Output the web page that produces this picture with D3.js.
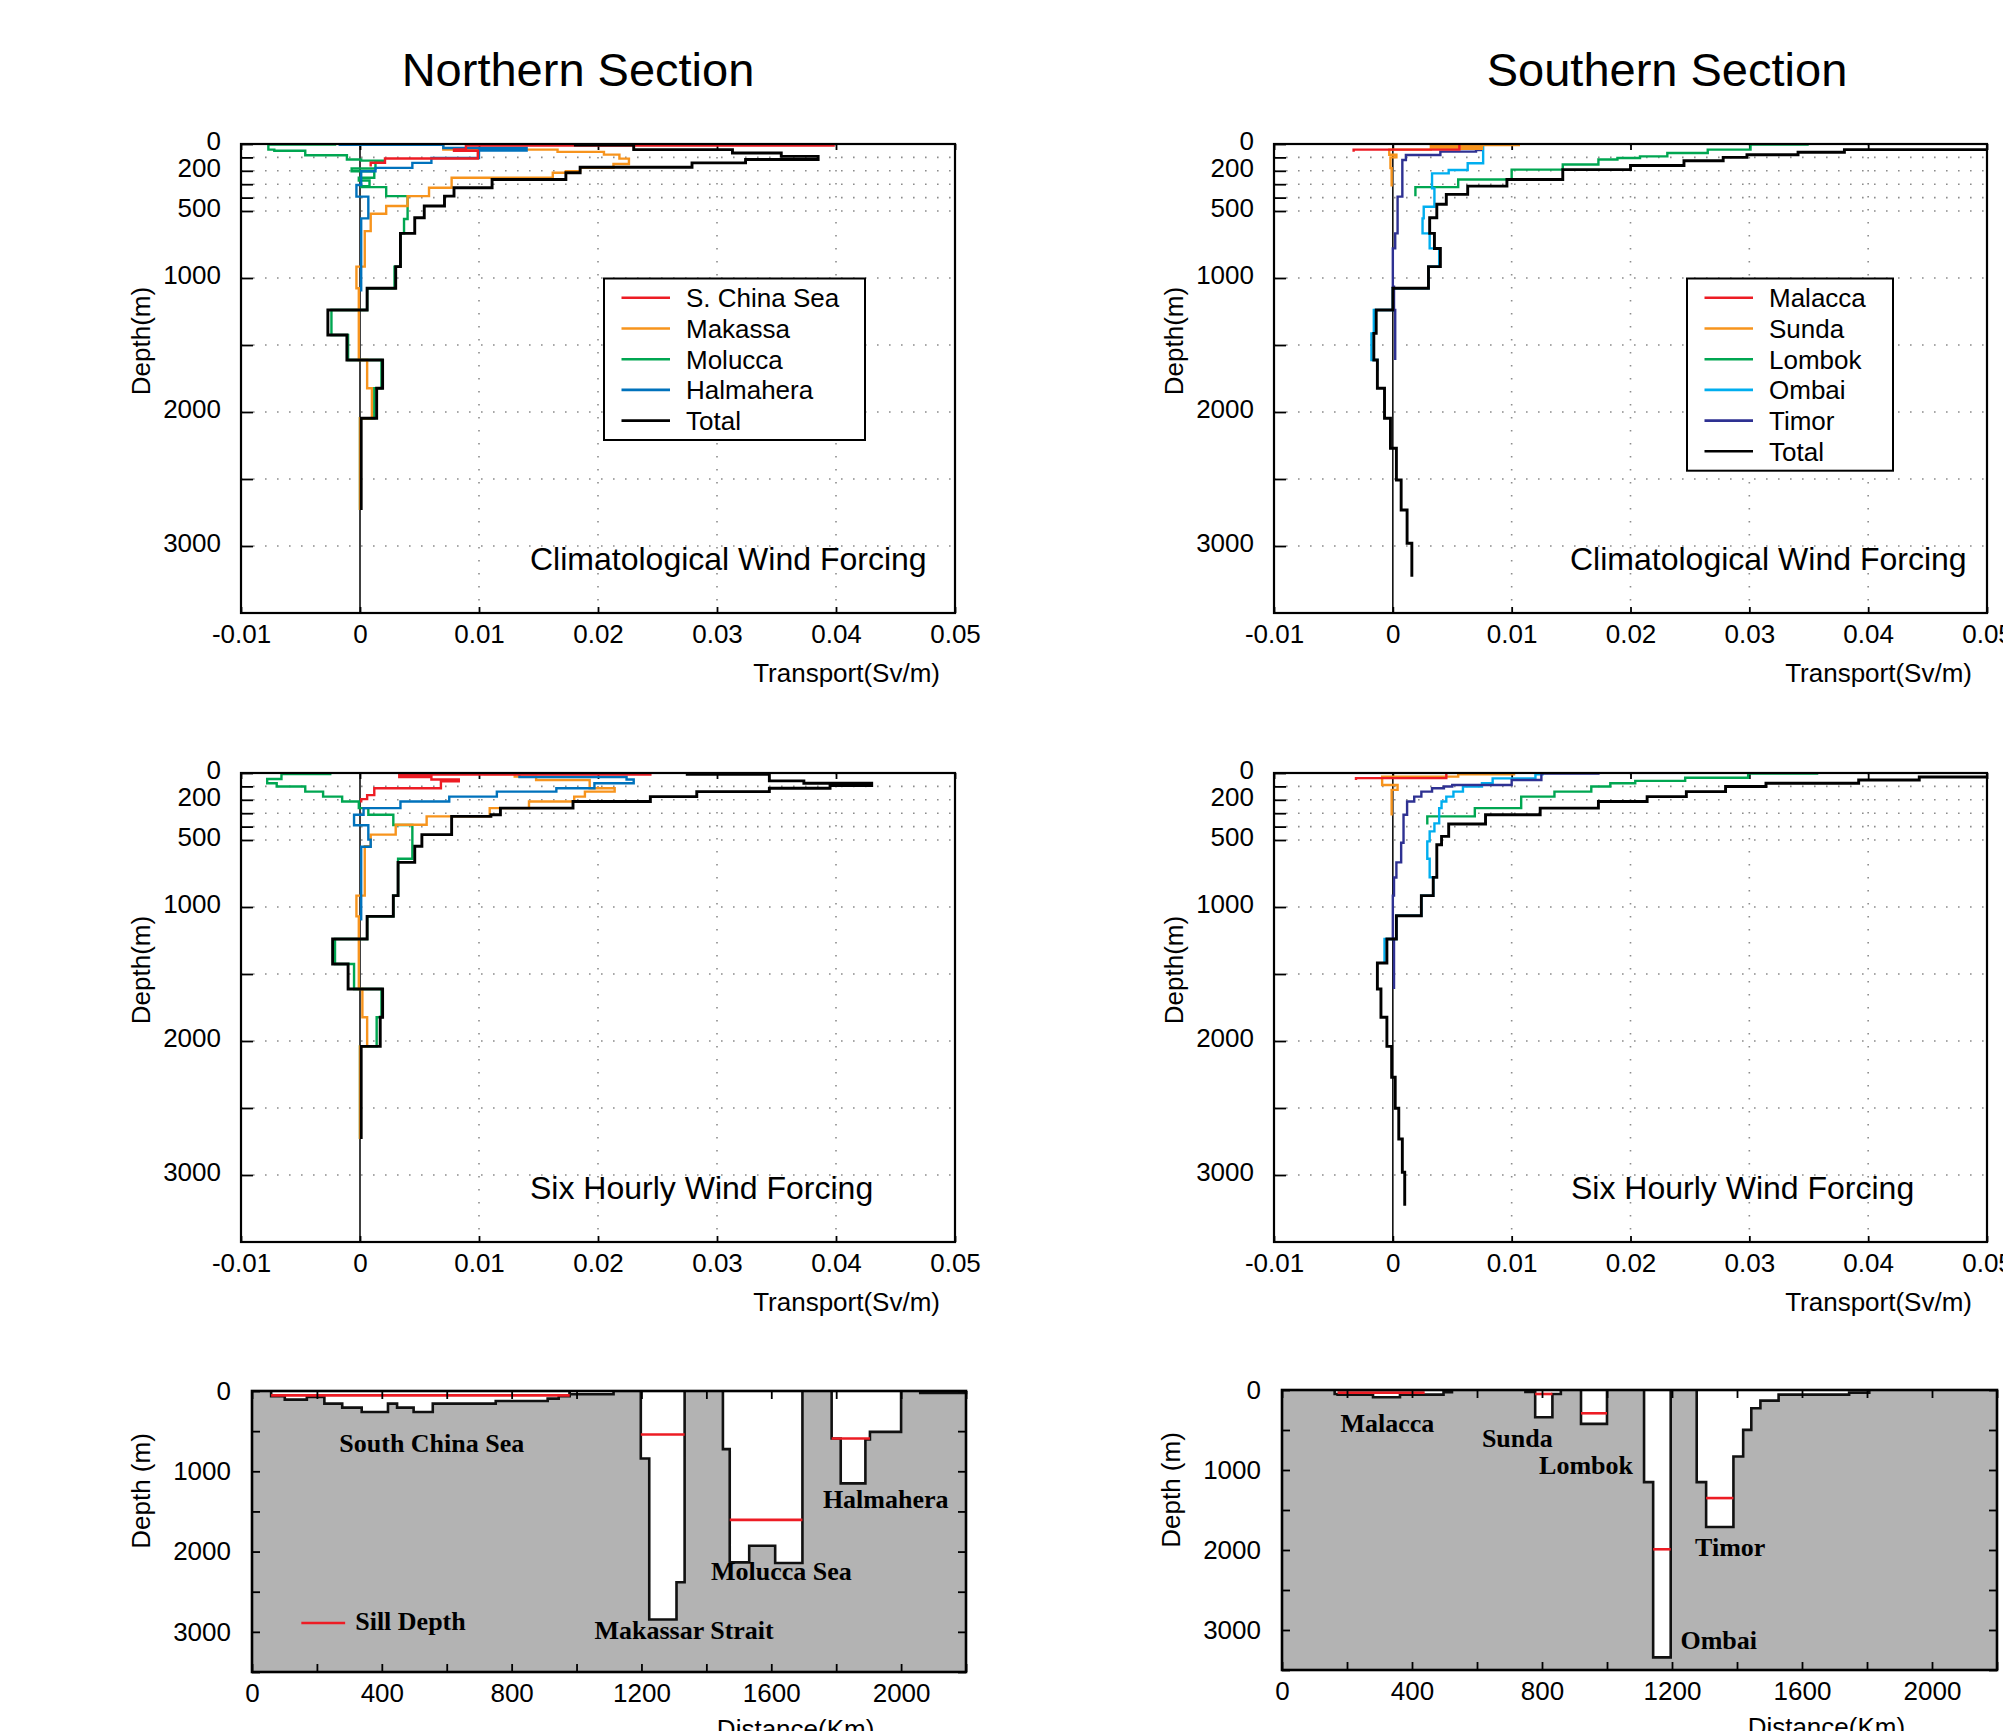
<!DOCTYPE html>
<html>
<head>
<meta charset="utf-8">
<script src="https://cdn.jsdelivr.net/npm/d3@7"></script>
<style>
body { margin: 0; background: #fff; }
</style>
</head>
<body>
<script>
var SANS = "'Liberation Sans', Arial, Helvetica, sans-serif";
var SERIF = "'Liberation Serif', 'Times New Roman', Times, serif";

// ---- axis ticks ----
var transportTicks = [-0.01, 0, 0.01, 0.02, 0.03, 0.04, 0.05];
var depthTicks = [0, 100, 200, 300, 400, 500, 1000, 1500, 2000, 2500, 3000];
var depthLabels = [0, 200, 500, 1000, 2000, 3000];
var distTicks = [0, 200, 400, 600, 800, 1000, 1200, 1400, 1600, 1800, 2000, 2200];
var distLabels = [0, 400, 800, 1200, 1600, 2000];
var sectionDepthTicks = [0, 500, 1000, 1500, 2000, 2500, 3000, 3500];
var sectionDepthLabels = [0, 1000, 2000, 3000];

// ---- legend ----
var northNames = ["S. China Sea", "Makassa", "Molucca", "Halmahera", "Total"];
var northColors = ["#ed1c24", "#f7941d", "#00a651", "#0072bc", "#000000"];
var southNames = ["Malacca", "Sunda", "Lombok", "Ombai", "Timor", "Total"];
var southColors = ["#ed1c24", "#f7941d", "#00a651", "#00aeef", "#2e3192", "#000000"];

// ---- transport profiles: [layer top depth (m), transport (Sv/m)], last row = bottom ----
// northern section, climatological wind
var climScs = [[0,0.0398],[12,0.0089],[40,0.0079],[50,0.0099],[108,0.0021],[140,0.0009],[168,0.0009]];
var climMak = [[0,0.0042],[6,0.0070],[42,0.0166],[59,0.0205],[79,0.0218],[109,0.0226],[149,0.0213],[178,0.0185],[203,0.0173],[215,0.0162],[252,0.0077],[327,0.0058],[389,0.0040],[463,0.0022],[520,0.0009],[650,0.0004],[915,-0.0003],[1077,-0.0001],[1612,0.0006],[1823,0.0010],[2047,0.0000],[2731,0]];
var climMol = [[0,-0.0021],[5,-0.0077],[42,-0.0072],[50,-0.0046],[84,-0.0011],[116,0.0001],[124,0.0020],[141,0.0013],[183,-0.0007],[203,0.0012],[252,-0.0001],[272,0.0008],[314,0.0001],[322,0.0022],[389,0.0040],[560,0.0037],[667,0.0034],[915,0.0029],[1077,0.0006],[1239,-0.0024],[1425,-0.0010],[1612,0.0018],[1823,0.0012],[2047,0.0000],[2731,0]];
var climHal = [[0,-0.0017],[6,0.0070],[30,0.0140],[48,0.0100],[105,0.0060],[141,0.0044],[178,0.0013],[203,0.0001],[306,-0.0003],[393,0.0007],[555,0.0001],[1100,0.0001]];
var climTotN = [[0,0.0181],[8,0.0230],[42,0.0313],[67,0.0354],[92,0.0385],[116,0.0324],[141,0.0279],[173,0.0185],[215,0.0173],[265,0.0111],[327,0.0079],[389,0.0071],[463,0.0054],[550,0.0046],[667,0.0034],[915,0.0030],[1077,0.0006],[1239,-0.0027],[1425,-0.0011],[1612,0.0019],[1823,0.0014],[2047,0.0001],[2731,0.0001]];

// northern section, six hourly wind
var sixScs = [[0,0.0244],[12,0.0033],[30,0.0060],[48,0.0083],[62,0.0068],[114,0.0012],[165,0.0006],[195,0.0001],[220,0.0001]];
var sixMak = [[0,0.0105],[8,0.0130],[27,0.0148],[52,0.0193],[114,0.0214],[139,0.0189],[176,0.0180],[213,0.0142],[262,0.0109],[324,0.0056],[386,0.0030],[460,0.0009],[547,0.0004],[915,-0.0003],[1070,-0.0001],[1612,0.0002],[1823,0.0006],[2040,0.0000],[2731,0]];
var sixMol = [[0,-0.0025],[8,-0.0066],[45,-0.0078],[77,-0.0070],[101,-0.0046],[139,-0.0031],[176,-0.0015],[213,-0.0001],[262,0.0007],[312,0.0028],[388,0.0044],[640,0.0032],[915,0.0028],[1070,0.0006],[1239,-0.0021],[1425,-0.0005],[1612,0.0018],[1823,0.0014],[2040,0.0000],[2731,0]];
var sixHal = [[0,0.0060],[5,0.0134],[30,0.0224],[48,0.0230],[77,0.0197],[114,0.0165],[139,0.0115],[176,0.0075],[213,0.0034],[262,0.0003],[312,-0.0005],[390,0.0007],[497,0.0009],[550,0.0001],[1100,0.0001]];
var sixTotN = [[0,0.0275],[10,0.0344],[59,0.0373],[77,0.0430],[94,0.0395],[114,0.0344],[139,0.0283],[176,0.0244],[213,0.0179],[262,0.0118],[312,0.0110],[324,0.0077],[460,0.0052],[547,0.0046],[667,0.0032],[915,0.0028],[1070,0.0006],[1239,-0.0023],[1425,-0.0010],[1612,0.0019],[1823,0.0017],[2040,0.0001],[2731,0.0001]];

// southern section, climatological wind
var climMal = [[0,0.0056],[42,-0.0033],[58,-0.0033]];
var climSun = [[0,0.0106],[8,0.0032],[20,0.0075],[35,0.0032],[42,-0.0003],[80,0.0003],[100,-0.0002],[180,-0.0001],[318,-0.0001]];
var climLom = [[0,0.0349],[5,0.0301],[42,0.0265],[67,0.0231],[92,0.0208],[104,0.0189],[116,0.0173],[153,0.0143],[191,0.0100],[265,0.0055],[322,0.0019],[390,0.0019]];
var climOmb = [[0,0.0076],[144,0.0063],[194,0.0047],[219,0.0033],[331,0.0035],[468,0.0026],[555,0.0025],[667,0.0031],[779,0.0039],[915,0.0030],[1077,0.0000],[1239,-0.0016],[1413,-0.0018],[1612,-0.0013],[1690,-0.0013]];
var climTim = [[0,0.0074],[45,0.0070],[57,0.0040],[82,0.0011],[119,0.0008],[393,0.0004],[667,0.0002],[779,0.0000],[1065,0.0001],[1239,0.0002],[1612,0.0002]];
var climTotS = [[0,0.0530],[42,0.0380],[62,0.0341],[80,0.0298],[100,0.0278],[125,0.0245],[160,0.0200],[191,0.0143],[265,0.0096],[314,0.0063],[376,0.0045],[450,0.0037],[550,0.0031],[667,0.0035],[780,0.0040],[915,0.0030],[1077,0.0000],[1239,-0.0014],[1413,-0.0016],[1612,-0.0013],[1823,-0.0007],[2047,-0.0002],[2271,0.0003],[2507,0.0007],[2731,0.0012],[2980,0.0016],[3229,0.0016]];

// southern section, six hourly wind
var sixMal = [[0,0.0045],[38,-0.0031],[52,-0.0031]];
var sixSun = [[0,0.0102],[10,0.0055],[27,-0.0009],[89,0.0004],[126,-0.0001],[318,-0.0001]];
var sixLom = [[0,0.0357],[5,0.0299],[35,0.0246],[59,0.0204],[77,0.0183],[101,0.0167],[139,0.0136],[176,0.0108],[262,0.0069],[324,0.0029],[385,0.0029]];
var sixOmb = [[0,0.0126],[10,0.0120],[40,0.0084],[77,0.0075],[101,0.0059],[139,0.0051],[176,0.0045],[213,0.0041],[262,0.0039],[376,0.0035],[436,0.0031],[510,0.0029],[640,0.0031],[779,0.0034],[915,0.0024],[1065,0.0003],[1239,-0.0007],[1418,-0.0007]];
var sixTim = [[0,0.0173],[5,0.0125],[52,0.0100],[89,0.0050],[101,0.0043],[114,0.0033],[139,0.0024],[176,0.0018],[213,0.0012],[312,0.0009],[520,0.0007],[667,0.0003],[780,0.0001],[915,0.0000],[1239,0.0001],[1612,0.0001]];
var sixTotS = [[0,0.0530],[30,0.0443],[52,0.0392],[77,0.0314],[101,0.0280],[139,0.0247],[176,0.0214],[213,0.0173],[262,0.0124],[312,0.0078],[381,0.0047],[473,0.0041],[535,0.0037],[779,0.0034],[915,0.0024],[1065,0.0003],[1239,-0.0005],[1418,-0.0013],[1612,-0.0010],[1823,-0.0005],[2040,-0.0001],[2271,0.0002],[2502,0.0005],[2731,0.0008],[2980,0.0010],[3229,0.0010]];

// ---- passage bottoms: [distance (km), depth (m)] steps, last row = end of passage ----
var scsFloor = [[59,66],[101,107],[169,74],[223,157],[278,207],[338,261],[419,157],[447,207],[498,261],[557,157],[751,124],[911,95],[945,66],[979,0]];
var shelfFloorN = [[979,40],[1114,0]];
var makassarFloor = [[1198,840],[1224,2846],[1308,2383],[1333,0]];
var moluccaFloor = [[1451,724],[1472,2135],[1532,1928],[1612,2143],[1696,0]];
var halmaheraFloor = [[1786,591],[1814,1150],[1890,604],[1904,509],[2000,0]];
var eastShelfFloor = [[2059,25],[2200,0]];
var malaccaFloor = [[162,50],[171,58],[280,91],[363,58],[497,29],[523,0]];
var sundaFloor = [[749,25],[779,341],[832,50],[858,0]];
var lombokFloor = [[920,424],[1000,0]];
var ombaiFloor = [[1114,1151],[1142,3342],[1196,0]];
var timorFloor = [[1276,1151],[1305,1712],[1389,831],[1419,499],[1444,229],[1472,133],[1528,58],[1745,33],[1807,0]];

// sill depths: [from km, to km, depth m]
var northSills = [[59,979,54],[1198,1333,542],[1472,1696,1605],[1786,1904,592]];
var southSills = [[171,439,33],[779,832,50],[920,1000,291],[1142,1196,1991],[1305,1389,1351]];

// passage names: [text, km, depth]
var northPlaces = [["South China Sea",269,760],["Makassar Strait",1055,3089],["Molucca Sea",1414,2354],["Halmahera",1759,1457]];
var southPlaces = [["Malacca",180,527],["Sunda",615,718],["Lombok",791,1055],["Timor",1271,2079],["Ombai",1226,3240]];

var svg = d3.select("body").append("svg").attr("width", 2003).attr("height", 1731);

function fmtTransport(d) { return d === 0 ? "0" : String(+d.toFixed(2)); }

function stepPoints(prof) {
  var pts = [];
  for (var i = 0; i < prof.length - 1; i++) {
    pts.push([prof[i][1], prof[i][0]], [prof[i][1], prof[i + 1][0]]);
  }
  return pts;
}

function profilePanel(p) {
  var x = d3.scaleLinear().domain([-0.01, 0.05]).range([p.left, p.right]);
  var y = d3.scaleLinear().domain([0, 3500]).range([p.top, p.bottom]);
  var g = svg.append("g");

  svg.append("clipPath").attr("id", p.id).append("rect")
    .attr("x", p.left).attr("y", p.top)
    .attr("width", p.right - p.left).attr("height", p.bottom - p.top);

  // dotted grid
  g.append("g").selectAll("line").data(depthTicks.slice(1)).join("line")
    .attr("x1", p.left).attr("x2", p.right)
    .attr("y1", d => y(d)).attr("y2", d => y(d))
    .attr("stroke", "#8c8c8c").attr("stroke-width", 1.6).attr("stroke-dasharray", "1.6 10.4");
  g.append("g").selectAll("line").data(transportTicks.filter(d => d > 0 && d < 0.05)).join("line")
    .attr("x1", d => x(d)).attr("x2", d => x(d))
    .attr("y1", p.top).attr("y2", p.bottom)
    .attr("stroke", "#8c8c8c").attr("stroke-width", 1.6).attr("stroke-dasharray", "1.6 11.4");

  // axes
  var ya = g.append("g").attr("transform", "translate(" + p.left + ",0)")
    .call(d3.axisLeft(y).tickValues(depthTicks).tickSize(-12).tickPadding(20)
      .tickFormat(d => depthLabels.indexOf(d) >= 0 ? d : ""));
  var xa = g.append("g").attr("transform", "translate(0," + p.bottom + ")")
    .call(d3.axisBottom(x).tickValues(transportTicks).tickSize(-6).tickPadding(12).tickFormat(fmtTransport));
  var xt = g.append("g").attr("transform", "translate(0," + p.top + ")")
    .call(d3.axisTop(x).tickValues(transportTicks).tickSize(-6).tickFormat(""));
  [ya, xa, xt].forEach(function (a) {
    a.select(".domain").remove();
    a.attr("font-family", SANS).attr("font-size", 26);
    a.selectAll("line").attr("stroke-width", 1.8);
  });
  ya.selectAll("text").attr("dy", "0.22em");

  // zero line
  g.append("line").attr("x1", x(0)).attr("x2", x(0)).attr("y1", p.top).attr("y2", p.bottom)
    .attr("stroke", "#000").attr("stroke-width", 1.5);

  // profiles
  var line = d3.line().x(d => x(d[0])).y(d => y(d[1]));
  var lines = g.append("g").attr("clip-path", "url(#" + p.id + ")");
  p.order.forEach(function (k) {
    lines.append("path").attr("d", line(stepPoints(p.series[k])))
      .attr("fill", "none").attr("stroke", p.colors[k])
      .attr("stroke-width", p.colors[k] === "#000000" ? 2.9 : 2.4);
  });

  // frame
  g.append("rect").attr("x", p.left).attr("y", p.top)
    .attr("width", p.right - p.left).attr("height", p.bottom - p.top)
    .attr("fill", "none").attr("stroke", "#000").attr("stroke-width", 2.2);

  // axis titles
  g.append("text").attr("transform", "translate(" + (p.left - 91) + "," + (p.top + 197) + ") rotate(-90)")
    .attr("text-anchor", "middle").attr("font-family", SANS).attr("font-size", 26).text("Depth(m)");
  g.append("text").attr("x", p.right - 15).attr("y", p.bottom + 69)
    .attr("text-anchor", "end").attr("font-family", SANS).attr("font-size", 26).text("Transport(Sv/m)");
  g.append("text").attr("x", p.left + p.forcingDx).attr("y", p.bottom - 43)
    .attr("font-family", SANS).attr("font-size", 32).text(p.forcing);

  // legend
  if (p.legend) {
    var L = p.legend;
    var lg = g.append("g");
    lg.append("rect").attr("x", L.x).attr("y", L.y).attr("width", L.w)
      .attr("height", 19 + p.names.length * 30.7 - 11)
      .attr("fill", "#fff").attr("stroke", "#000").attr("stroke-width", 2);
    p.names.forEach(function (n, i) {
      var ry = L.y + 19.3 + i * 30.7;
      lg.append("line").attr("x1", L.x + 17.5).attr("x2", L.x + 66).attr("y1", ry).attr("y2", ry)
        .attr("stroke", p.colors[i]).attr("stroke-width", 2.6);
      lg.append("text").attr("x", L.x + 82).attr("y", ry + 9.5)
        .attr("font-family", SANS).attr("font-size", 26).text(n);
    });
  }
}

function floorPoints(fl) {
  var pts = [[fl[0][0], 0]];
  for (var i = 0; i < fl.length - 1; i++) pts.push(fl[i]);
  pts.push([fl[fl.length - 1][0], 0]);
  return pts;
}

function sectionPanel(p) {
  var x = d3.scaleLinear().domain([0, 2200]).range([p.left, p.right]);
  var y = d3.scaleLinear().domain([0, 3500]).range([p.top, p.bottom]);
  var g = svg.append("g");

  g.append("rect").attr("x", p.left).attr("y", p.top)
    .attr("width", p.right - p.left).attr("height", p.bottom - p.top).attr("fill", "#b3b3b3");

  var area = d3.line().x(d => x(d[0])).y(d => y(d[1])).curve(d3.curveStepAfter);
  p.floors.forEach(function (fl) {
    g.append("path").attr("d", area(floorPoints(fl)))
      .attr("fill", "#fff").attr("stroke", "#111").attr("stroke-width", 2.6);
  });

  g.append("g").selectAll("line").data(p.sills).join("line")
    .attr("x1", d => x(d[0])).attr("x2", d => x(d[1]))
    .attr("y1", d => y(d[2])).attr("y2", d => y(d[2]))
    .attr("stroke", "#ed1c24").attr("stroke-width", 2.6);

  var ya = g.append("g").attr("transform", "translate(" + p.left + ",0)")
    .call(d3.axisLeft(y).tickValues(sectionDepthTicks).tickSize(-8).tickPadding(21)
      .tickFormat(d => sectionDepthLabels.indexOf(d) >= 0 ? d : ""));
  var yr = g.append("g").attr("transform", "translate(" + p.right + ",0)")
    .call(d3.axisRight(y).tickValues(sectionDepthTicks).tickSize(-8).tickFormat(""));
  var xa = g.append("g").attr("transform", "translate(0," + p.bottom + ")")
    .call(d3.axisBottom(x).tickValues(distTicks).tickSize(-8).tickPadding(12)
      .tickFormat(d => distLabels.indexOf(d) >= 0 ? d : ""));
  var xt = g.append("g").attr("transform", "translate(0," + p.top + ")")
    .call(d3.axisTop(x).tickValues(distTicks).tickSize(-8).tickFormat(""));
  [ya, yr, xa, xt].forEach(function (a) {
    a.select(".domain").remove();
    a.attr("font-family", SANS).attr("font-size", 26);
    a.selectAll("line").attr("stroke-width", 1.8);
  });

  g.append("rect").attr("x", p.left).attr("y", p.top)
    .attr("width", p.right - p.left).attr("height", p.bottom - p.top)
    .attr("fill", "none").attr("stroke", "#000").attr("stroke-width", 2.6);

  g.append("g").selectAll("text").data(p.places).join("text")
    .attr("x", d => x(d[1])).attr("y", d => y(d[2]))
    .attr("font-family", SERIF).attr("font-weight", "bold").attr("font-size", 26)
    .text(d => d[0]);

  if (p.sillKey) {
    g.append("line").attr("x1", x(152)).attr("x2", x(287)).attr("y1", y(2890)).attr("y2", y(2890))
      .attr("stroke", "#ed1c24").attr("stroke-width", 2.6);
    g.append("text").attr("x", x(318)).attr("y", y(2977))
      .attr("font-family", SERIF).attr("font-weight", "bold").attr("font-size", 26).text("Sill Depth");
  }

  g.append("text").attr("transform", "translate(" + (p.left - 102) + "," + (p.top + 100) + ") rotate(-90)")
    .attr("text-anchor", "middle").attr("font-family", SANS).attr("font-size", 26).text("Depth (m)");
  g.append("text").attr("x", x(1675)).attr("y", p.bottom + 66)
    .attr("text-anchor", "middle").attr("font-family", SANS).attr("font-size", 26).text("Distance(Km)");
}

// titles
svg.append("text").attr("x", 578).attr("y", 86).attr("text-anchor", "middle")
  .attr("font-family", SANS).attr("font-size", 47).text("Northern Section");
svg.append("text").attr("x", 1667).attr("y", 86).attr("text-anchor", "middle")
  .attr("font-family", SANS).attr("font-size", 47).text("Southern Section");

profilePanel({
  id: "cN", left: 241, right: 955, top: 144, bottom: 613,
  series: [climScs, climMak, climMol, climHal, climTotN], colors: northColors, names: northNames,
  order: [2, 1, 3, 0, 4], forcing: "Climatological Wind Forcing", forcingDx: 289,
  legend: { x: 604, y: 278.5, w: 261 }
});
profilePanel({
  id: "sN", left: 241, right: 955, top: 773, bottom: 1242,
  series: [sixScs, sixMak, sixMol, sixHal, sixTotN], colors: northColors, names: northNames,
  order: [2, 1, 3, 0, 4], forcing: "Six Hourly Wind Forcing", forcingDx: 289
});
profilePanel({
  id: "cS", left: 1274, right: 1987, top: 144, bottom: 613,
  series: [climMal, climSun, climLom, climOmb, climTim, climTotS], colors: southColors, names: southNames,
  order: [2, 3, 4, 1, 0, 5], forcing: "Climatological Wind Forcing", forcingDx: 296,
  legend: { x: 1687, y: 278.5, w: 206 }
});
profilePanel({
  id: "sS", left: 1274, right: 1987, top: 773, bottom: 1242,
  series: [sixMal, sixSun, sixLom, sixOmb, sixTim, sixTotS], colors: southColors, names: southNames,
  order: [2, 3, 4, 1, 0, 5], forcing: "Six Hourly Wind Forcing", forcingDx: 297
});

sectionPanel({
  left: 252, right: 966, top: 1391, bottom: 1672,
  floors: [scsFloor, shelfFloorN, makassarFloor, moluccaFloor, halmaheraFloor, eastShelfFloor],
  sills: northSills, places: northPlaces, sillKey: true
});
sectionPanel({
  left: 1282, right: 1997, top: 1390, bottom: 1670,
  floors: [malaccaFloor, sundaFloor, lombokFloor, ombaiFloor, timorFloor],
  sills: southSills, places: southPlaces, sillKey: false
});
</script>
</body>
</html>
